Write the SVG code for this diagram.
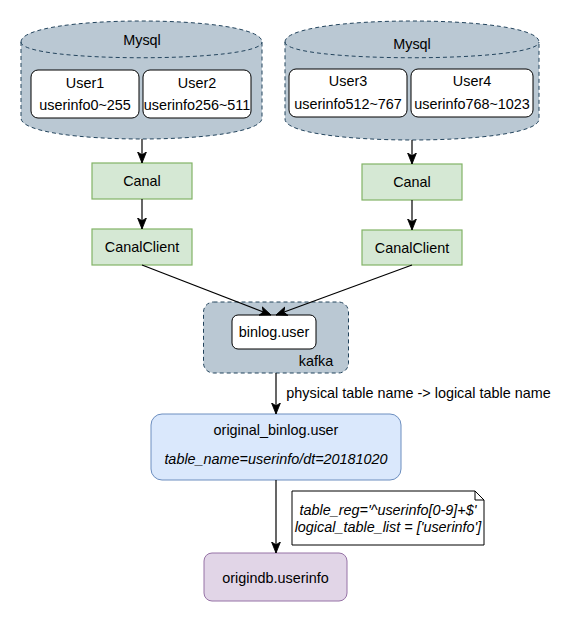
<svg xmlns="http://www.w3.org/2000/svg" width="583" height="622" viewBox="0 0 583 622">
<defs>
<marker id="arr" markerUnits="userSpaceOnUse" markerWidth="11" markerHeight="11" viewBox="0 0 10 10" refX="10" refY="5" orient="auto">
<path d="M0,1 L10,5 L0,9 L2.5,5 Z" fill="#000" stroke="#000" stroke-width="0.8"/>
</marker>
</defs>
<style>
text{font-family:"Liberation Sans",Arial,Helvetica,sans-serif;font-size:14.4px;fill:#000;text-anchor:middle;dominant-baseline:central}
.it{font-style:italic}
.cyl{fill:#bac8d3;stroke:#23445d;stroke-dasharray:4 3;stroke-width:1}
.inner{fill:#fff;stroke:#000;stroke-width:1}
.green{fill:#d5e8d4;stroke:#82b366;stroke-width:1.2}
.conn{fill:none;stroke:#000;stroke-width:1.2;marker-end:url(#arr)}
</style>
<g id="mysql1">
<path class="cyl" d="M21,42 C21,14 262,14 262,42 L262,118 C262,146 21,146 21,118 Z"/>
<path class="cyl" style="fill:none" d="M21,42 C21,63 262,63 262,42"/>
<text x="142" y="40">Mysql</text>
</g>
<g id="user1">
<rect class="inner" x="31" y="70" width="108" height="48" rx="7"/>
<text x="85" y="83">User1</text>
<text x="85" y="105">userinfo0~255</text>
</g>
<g id="user2">
<rect class="inner" x="143" y="70" width="108" height="48" rx="7"/>
<text x="197" y="83">User2</text>
<text x="197" y="105">userinfo256~511</text>
</g>
<g id="mysql2">
<path class="cyl" d="M285,42 C285,14 539,14 539,42 L539,119 C539,147 285,147 285,119 Z"/>
<path class="cyl" style="fill:none" d="M285,42 C285,63 539,63 539,42"/>
<text x="412" y="44">Mysql</text>
</g>
<g id="user3">
<rect class="inner" x="289" y="69" width="118" height="48" rx="7"/>
<text x="348" y="81">User3</text>
<text x="348" y="104">userinfo512~767</text>
</g>
<g id="user4">
<rect class="inner" x="411" y="69" width="122" height="48" rx="7"/>
<text x="472" y="81">User4</text>
<text x="472" y="104">userinfo768~1023</text>
</g>
<g id="canal1">
<rect class="green" x="92" y="163" width="100" height="36"/>
<text x="142" y="181">Canal</text>
</g>
<g id="canalclient1">
<rect class="green" x="92" y="229" width="100" height="36"/>
<text x="142" y="247">CanalClient</text>
</g>
<g id="canal2">
<rect class="green" x="362" y="164" width="100" height="36"/>
<text x="412" y="182">Canal</text>
</g>
<g id="canalclient2">
<rect class="green" x="362" y="230" width="100" height="35"/>
<text x="412" y="247.5">CanalClient</text>
</g>
<g id="kafka">
<rect class="cyl" x="203.5" y="302" width="145" height="71" rx="10"/>
<text x="316" y="361">kafka</text>
</g>
<g id="binlog_user">
<rect class="inner" x="232" y="315" width="84" height="34" rx="6"/>
<text x="274" y="332">binlog.user</text>
</g>
<g id="original_binlog_user">
<rect x="151" y="414" width="250" height="66" rx="11" fill="#dae8fc" stroke="#6c8ebf" stroke-width="1"/>
<text x="276" y="430">original_binlog.user</text>
<text class="it" x="276" y="459">table_name=userinfo/dt=20181020</text>
</g>
<g id="note">
<path d="M292,491 L475,491 L484,500 L484,545 L292,545 Z" fill="#fff" stroke="#000" stroke-width="1"/>
<path d="M475,491 L475,500 L484,500" fill="none" stroke="#000" stroke-width="1"/>
<text class="it" x="388" y="510">table_reg='^userinfo[0-9]+$'</text>
<text class="it" x="388" y="527">logical_table_list = ['userinfo']</text>
</g>
<g id="origindb_userinfo">
<rect x="204" y="553" width="143" height="48" rx="8" fill="#e1d5e7" stroke="#9673a6" stroke-width="1"/>
<text x="275.5" y="578">origindb.userinfo</text>
</g>
<g id="connectors">
<path class="conn" d="M142,139 L142,163"/>
<path class="conn" d="M142,199 L142,229"/>
<path class="conn" d="M412,140 L412,164"/>
<path class="conn" d="M412,200 L412,230"/>
<path class="conn" d="M142,265 L271,315"/>
<path class="conn" d="M412,265 L276,315"/>
<path class="conn" d="M276,373 L276,414"/>
<path class="conn" d="M276,480 L276,553"/>
<text x="418.5" y="393">physical table name -&gt; logical table name</text>
</g>
</svg>
